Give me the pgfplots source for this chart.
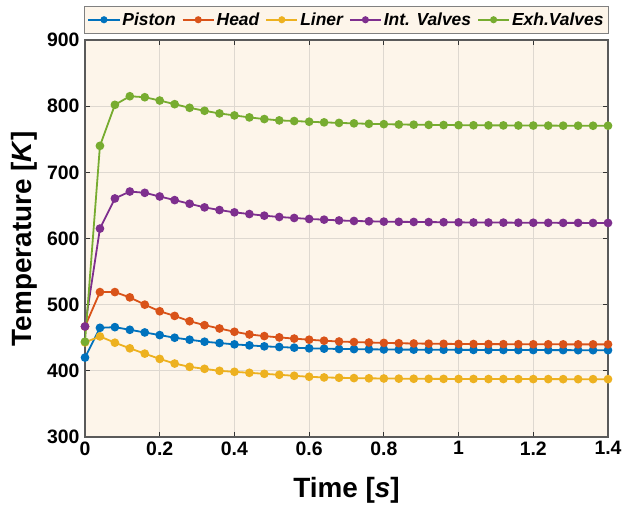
\documentclass[border=0pt]{standalone}
\usepackage{fontspec}
\setmainfont{Liberation Sans}
\usepackage{pgfplots}
\usepackage{pgfplotstable}
\pgfplotsset{compat=1.18}
\definecolor{c1}{RGB}{0,114,189}
\definecolor{c2}{RGB}{217,83,25}
\definecolor{c3}{RGB}{237,177,32}
\definecolor{c4}{RGB}{126,47,142}
\definecolor{c5}{RGB}{119,172,48}
\definecolor{bgc}{RGB}{253,245,234}
\definecolor{gridc}{RGB}{222,216,208}
\definecolor{axc}{RGB}{90,90,90}
\pgfplotstableread{
t p h l i e
0.00 420 467 443 467 444
0.04 465 519 452 615 740
0.08 466 519 442.5 660.5 802
0.12 462 511 434 671 815
0.16 458 500 426 669 813.5
0.20 454 490 418 663.5 808.5
0.24 450 483 411 658 803
0.28 447 475 406 652.5 797.5
0.32 444 469 403 647 793
0.36 442 464 400 643 789
0.40 440 459 398.5 639.5 786
0.44 438.5 455 397 637 783
0.48 437 452.5 395.5 634.5 780.5
0.52 436 450.5 394 632.5 778.5
0.56 435 448.7 392.5 631 777.5
0.60 434 447 391 629.5 776.5
0.64 433.5 445.5 390 628.5 775.5
0.68 433 444.3 389.5 627.3 774.7
0.72 432.8 443.5 389 626.5 774
0.76 432.5 442.8 388.7 626 773.3
0.80 432.3 442.2 388.4 625.5 772.8
0.84 432.1 441.7 388.2 625.2 772.3
0.88 432 441.3 388 625 772
0.92 431.9 441 387.9 624.8 771.7
0.96 431.8 440.8 387.8 624.6 771.5
1.00 431.7 440.6 387.7 624.4 771.3
1.04 431.6 440.5 387.7 624.2 771.1
1.08 431.5 440.4 387.6 624.1 771
1.12 431.5 440.3 387.6 624 770.9
1.16 431.4 440.2 387.5 623.9 770.8
1.20 431.4 440.1 387.5 623.8 770.7
1.24 431.3 440.1 387.5 623.7 770.6
1.28 431.3 440 387.4 623.6 770.5
1.32 431.2 440 387.4 623.6 770.5
1.36 431.2 440 387.4 623.5 770.4
1.40 431.2 440 387.4 623.5 770.4
}\datatable
\begin{document}
\begin{tikzpicture}
\begin{axis}[name=ax,
  scale only axis, width=523bp, height=397bp,
  xmin=0, xmax=1.4, ymin=300, ymax=900,
  xtick={0,0.2,0.4,0.6,0.8,1,1.2,1.4},
  ytick={300,400,500,600,700,800,900},
  grid=major, grid style={draw=gridc, line width=0.8bp},
  axis background/.style={fill=bgc},
  axis line style={draw=axc, line width=1.5bp},
  tick style={draw=black!80, line width=1bp},
  tick align=inside, major tick length=5bp,
  ticklabel style={font=\fontsize{19.5}{22}\selectfont\bfseries},
  /pgf/number format/assume math mode=true,
  xticklabel style={yshift=-1bp},
  yticklabel style={xshift=-2bp},
  xlabel={Time [\textit{s}]},
  ylabel={Temperature [\textit{K}]},
  xlabel style={at={(axis description cs:0.5,0)}, anchor=north, yshift=-40bp, inner sep=0pt, font=\fontsize{28}{32}\selectfont\bfseries},
  ylabel style={at={([xshift=-48bp]axis description cs:0,0.5)}, anchor=south, inner sep=0pt, font=\fontsize{28}{32}\selectfont\bfseries},
  legend columns=5,
  legend style={at={(0.5,1.0176)}, anchor=south, draw=gray, fill=bgc,
    font=\fontsize{17.5}{20}\selectfont\bfseries\itshape, inner xsep=3bp, inner ysep=4bp,
    /tikz/every even column/.append style={column sep=4bp}},
  legend image code/.code={\draw[line width=1.8bp, mark repeat=2,mark phase=2,mark size=2.6bp] plot coordinates {(0cm,0cm)(0.55cm,0cm)(1.1cm,0cm)};},
  every axis plot/.append style={line width=1.8bp, mark=*, mark size=3.4bp},
]
\addplot[color=c1] table[x=t,y=p]{\datatable};
\addlegendentry{Piston}
\addplot[color=c2] table[x=t,y=h]{\datatable};
\addlegendentry{Head}
\addplot[color=c3] table[x=t,y=l]{\datatable};
\addlegendentry{Liner}
\addplot[color=c4] table[x=t,y=i]{\datatable};
\addlegendentry{Int. Valves}
\addplot[color=c5] table[x=t,y=e]{\datatable};
\addlegendentry{Exh.Valves}
\end{axis}
\pgfresetboundingbox
\path ([xshift=-85bp,yshift=-71bp]ax.south west) rectangle ([xshift=14bp,yshift=40bp]ax.north east);
\end{tikzpicture}
\end{document}
